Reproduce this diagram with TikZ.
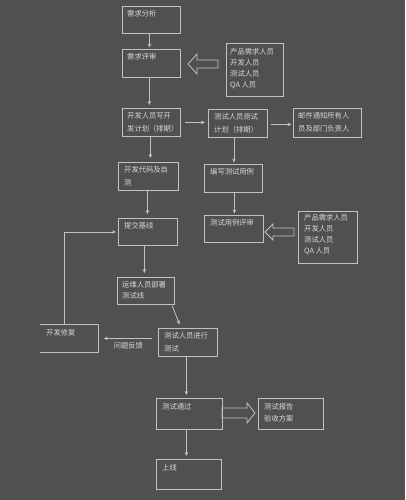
\documentclass[tikz,border=0pt]{standalone}
\usepackage{fontspec}
\setmainfont{Noto Sans CJK SC}
\usetikzlibrary{arrows.meta}
\definecolor{bg}{HTML}{505050}
\definecolor{ln}{HTML}{C2C2C2}
\definecolor{tx}{HTML}{D8D8D8}
\begin{document}
\begin{tikzpicture}[x=1pt,y=-1pt,
  box/.style={draw=ln, line width=0.8pt, inner sep=0, anchor=north west},
  txt/.style={text=tx, font=\fontsize{7.3}{12.5}\selectfont, align=left, inner sep=0, anchor=north west},
  gtxt/.style={txt, font=\fontsize{7.3}{11}\selectfont},
  lbl/.style={text=tx, font=\fontsize{7.3}{9}\selectfont, inner sep=0},
  arr/.style={-{Stealth[length=4pt,width=3.6pt]}, draw=ln, line width=0.8pt, shorten >=1.5pt},
  barr/.style={draw=ln, line width=0.8pt, line join=miter}]
\fill[bg] (0,0) rectangle (405,500);
\useasboundingbox (0,0) rectangle (405,500);

% boxes
\node[box, minimum width=58pt, minimum height=27pt] (ana) at (122,6) {};
\node[txt] (ana-t) at ([shift={(5,4.5)}]ana.north west) {需求分析};

\node[box, minimum width=58pt, minimum height=28pt] (rev) at (122,49) {};
\node[txt] (rev-t) at ([shift={(5,4.5)}]rev.north west) {需求评审};

\node[box, minimum width=57pt, minimum height=53pt] (grp1) at (226,43) {};
\node[gtxt] (grp1-t) at ([shift={(4,5)}]grp1.north west) {产品需求人员\\开发人员\\测试人员\\QA 人员};

\node[box, minimum width=58pt, minimum height=28pt] (devplan) at (122,108) {};
\node[txt] (devplan-t) at ([shift={(5,4.5)}]devplan.north west) {开发人员写开\\发计划（排期）};

\node[box, minimum width=59pt, minimum height=28pt] (testplan) at (208,109) {};
\node[txt] (testplan-t) at ([shift={(6,4.5)}]testplan.north west) {测试人员测试\\计划（排期）};

\node[box, minimum width=68pt, minimum height=29pt] (mail) at (293,108) {};
\node[txt] (mail-t) at ([shift={(5,4.5)}]mail.north west) {邮件通知所有人\\员及部门负责人};

\node[box, minimum width=60pt, minimum height=28pt] (code) at (118,162) {};
\node[txt] (code-t) at ([shift={(6,4.5)}]code.north west) {开发代码及自\\测};

\node[box, minimum width=58pt, minimum height=28pt] (cases) at (204,164) {};
\node[txt] (cases-t) at ([shift={(6,4.5)}]cases.north west) {编写测试用例};

\node[box, minimum width=59pt, minimum height=27pt] (caserev) at (204,215) {};
\node[txt] (caserev-t) at ([shift={(6,4.5)}]caserev.north west) {测试用例评审};

\node[box, minimum width=59pt, minimum height=52pt] (grp2) at (298,211) {};
\node[gtxt] (grp2-t) at ([shift={(6,3.5)}]grp2.north west) {产品需求人员\\开发人员\\测试人员\\QA 人员};

\node[box, minimum width=59pt, minimum height=27pt] (commit) at (118,218) {};
\node[txt] (commit-t) at ([shift={(6,4.5)}]commit.north west) {提交基线};

\node[box, minimum width=57pt, minimum height=27pt] (deploy) at (117,277) {};
\node[gtxt] (deploy-t) at ([shift={(5,4.5)}]deploy.north west) {运维人员部署\\测试线};

\node[box, draw=none, minimum width=58pt, minimum height=28pt] (fix) at (40,324) {};
\draw[ln, line width=0.8pt] (fix.north west) -- (fix.north east) -- (fix.south east) -- (fix.south west);
\node[txt] (fix-t) at ([shift={(6,5)}]fix.north west) {开发修复};

\node[box, minimum width=59pt, minimum height=28pt] (exec) at (158,328) {};
\node[txt] (exec-t) at ([shift={(6,4.5)}]exec.north west) {测试人员进行\\测试};

\node[box, minimum width=66pt, minimum height=31pt] (pass) at (156,398) {};
\node[txt] (pass-t) at ([shift={(6,5)}]pass.north west) {测试通过};

\node[box, minimum width=65pt, minimum height=31pt] (report) at (258,398) {};
\node[txt] (report-t) at ([shift={(6,5)}]report.north west) {测试报告\\验收方案};

\node[box, minimum width=65pt, minimum height=30pt] (online) at (156,459) {};
\node[txt] (online-t) at ([shift={(6,5)}]online.north west) {上线};

% arrows
\draw[arr] ([xshift=-2]ana.south) -- ([xshift=-2]rev.north);
\draw[arr, shorten >=3pt] ([xshift=-2]rev.south) -- ([xshift=-2]rev.south |- devplan.north);
\draw[arr, shorten <=4pt, shorten >=3pt] (devplan.east) -- (testplan.west |- devplan.east);
\draw[arr, shorten <=3pt] ([yshift=-1]testplan.east) -- ([yshift=-1]mail.west |- testplan.east);
\draw[arr, shorten >=4pt] ([xshift=-1]devplan.south) -- ([xshift=-1]devplan.south |- code.north);
\draw[arr] ([xshift=-4]testplan.south) -- ([xshift=-4]testplan.south |- cases.north);
\draw[arr] ([xshift=1]cases.south) -- ([xshift=1]cases.south |- caserev.north);
\draw[arr, shorten >=4pt] ([xshift=-1]code.south) -- ([xshift=-1]code.south |- commit.north);
\draw[arr, shorten >=4pt] ([xshift=-3.5]commit.south) -- ([xshift=-3.5]commit.south |- deploy.north);
\draw[arr, shorten <=1pt, shorten >=4pt] ([xshift=-3]deploy.south east) -- ([xshift=23]exec.north west);
\draw[arr, shorten <=6pt, shorten >=5pt] (exec.west |- fix.east) -- node[lbl, below=4pt] (fb) {问题反馈} (fix.east);
\draw[arr, shorten >=2pt] ([xshift=24]fix.north west) |- (commit.west);
\draw[arr, shorten >=3pt] ([xshift=-1.5]exec.south) -- ([xshift=-1.5]exec.south |- pass.north);
\draw[arr, shorten >=3pt] ([xshift=-3]pass.south) -- ([xshift=-3]pass.south |- online.north);

% block arrows
\draw[barr] (218,60) -- (197,60) -- (197,54) -- (188,64) -- (197,74) -- (197,68) -- (218,68) -- cycle;
\draw[barr] (294,228) -- (273,228) -- (273,224) -- (265,232) -- (273,240) -- (273,236) -- (294,236) -- cycle;
\draw[barr] (222,408) -- (247,408) -- (247,403) -- (255,413) -- (247,423) -- (247,418) -- (222,418) -- cycle;
\end{tikzpicture}
\end{document}
